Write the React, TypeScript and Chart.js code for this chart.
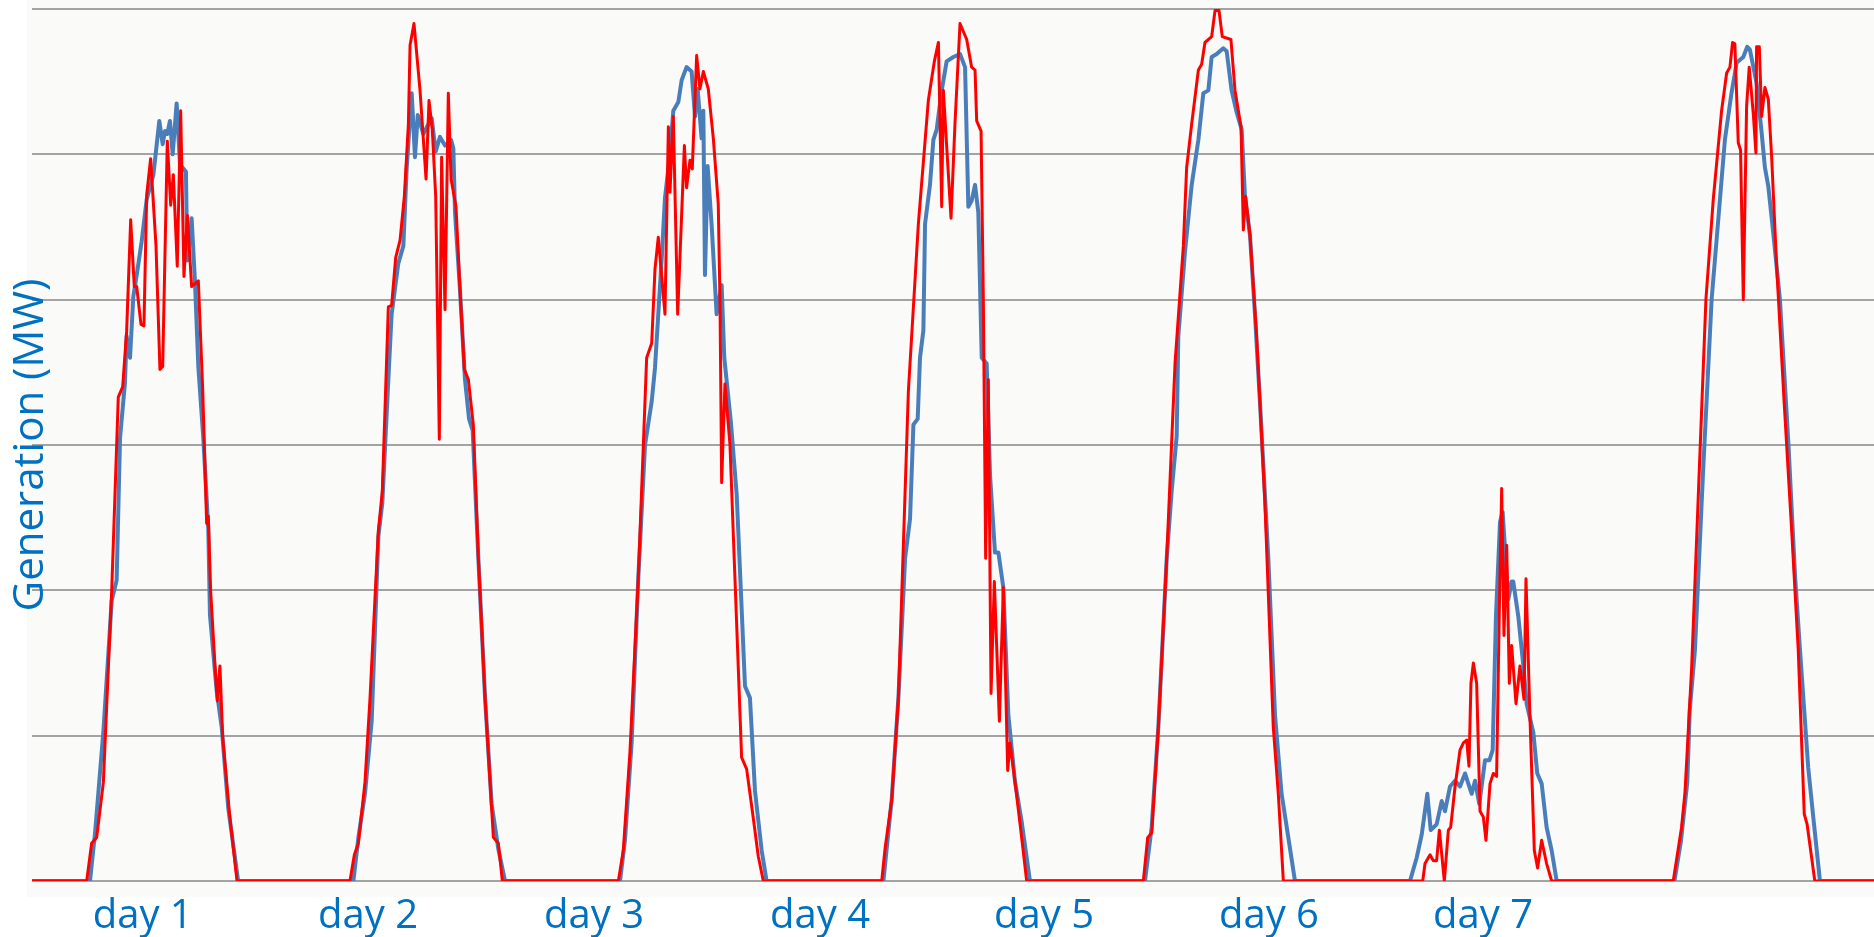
import React, { useEffect, useRef } from "react";
import { Chart, registerables } from "chart.js";

Chart.register(...registerables);

type Pt = [number, number];

// x = hours since start of the week, y = generation in MW
const measuredDay1: Pt[] = [
  [0, 0], [5.29, 0], [5.75, 3.3], [6.51, 10.3], [7.27, 19.3], [7.72, 20.7], [8.03, 30.5], [8.48, 34.3],
  [8.63, 37.5], [8.94, 36], [9.24, 40.2], [9.61, 42], [10.0, 44], [10.46, 46.9], [11.07, 48.6],
  [11.61, 52.3], [11.92, 50.7], [12.13, 51.6], [12.34, 51.4], [12.58, 52.3], [12.83, 50], [13.19, 53.5],
  [13.5, 49.3], [14.04, 48.8], [14.16, 42.7], [14.56, 45.6], [14.86, 41.3], [15.17, 35.4], [15.62, 30.5],
  [16.08, 24.2], [16.23, 18.3], [16.84, 13.1], [17.3, 10.6], [17.9, 5], [18.8, 0],
];
const measuredDay2: Pt[] = [
  [29.31, 0], [29.77, 3], [30.37, 6], [30.98, 11], [31.59, 23.7], [31.95, 26], [32.5, 34.5], [32.8, 39],
  [33.41, 42.5], [33.87, 43.7], [34.17, 49], [34.63, 54.2], [34.93, 49.8], [35.18, 52.7], [35.69, 51.4],
  [36.45, 52.5], [36.82, 50.2], [37.21, 51.2], [37.67, 50.6], [38.22, 51], [38.43, 50.4], [38.58, 46],
  [39.04, 40.6], [39.49, 34.5], [39.86, 31.8], [40.19, 31], [40.71, 22.2], [41.32, 12.6], [41.92, 5.3],
  [42.53, 2.2], [43.14, 0],
];
const measuredDay3: Pt[] = [
  [53.63, 0], [54.08, 2.8], [54.69, 9.5], [55.3, 20.9], [55.91, 30], [56.52, 33], [56.82, 35.3], [57.12, 39],
  [57.43, 42.8], [57.73, 47], [58.19, 50], [58.49, 53], [58.95, 53.6], [59.25, 55.1], [59.7, 56],
  [60.16, 55.7], [60.47, 52.6], [60.71, 54.5], [61.07, 51.1], [61.23, 53], [61.38, 41.7], [61.62, 49.2],
  [61.99, 45.1], [62.44, 39], [62.9, 41], [63.14, 36], [63.75, 31.5], [64.27, 26.6], [65.03, 13.4],
  [65.48, 12.6], [65.94, 6.2], [66.55, 2.1], [67.0, 0],
];
const measuredDay4: Pt[] = [
  [77.65, 0], [78.41, 5.6], [79.02, 12.6], [79.63, 22.2], [80.08, 24.9], [80.39, 31.4], [80.78, 31.8],
  [80.99, 36], [81.3, 37.9], [81.45, 45.2], [81.9, 47.9], [82.21, 51], [82.51, 51.7], [82.97, 54.4],
  [83.42, 56.4], [84.03, 56.7], [84.64, 56.9], [85.1, 56], [85.4, 46.4], [85.7, 46.8], [86.01, 47.9],
  [86.31, 46], [86.62, 36], [87.07, 35.6], [87.38, 27.9], [87.83, 22.6], [88.14, 22.6], [88.59, 20.2],
  [89.05, 11.4], [89.66, 6.8], [90.26, 4.1], [91.02, 0],
];
const measuredDay5: Pt[] = [
  [101.51, 0], [102.12, 3.7], [102.73, 10.6], [103.49, 22.2], [103.94, 26.8], [104.4, 30.6], [104.55, 37.5],
  [105.16, 43.3], [105.77, 47.9], [106.38, 51], [106.83, 54.2], [107.29, 54.4], [107.59, 56.7],
  [108.05, 56.9], [108.65, 57.3], [108.96, 57.1], [109.41, 54.4], [109.87, 52.9], [110.33, 51.7],
  [110.63, 47.1], [111.09, 44.4], [111.54, 39], [112.0, 32.9], [112.76, 22.2], [113.37, 11.4],
  [113.97, 6], [114.58, 3], [115.19, 0],
];
const measuredDay6: Pt[] = [
  [125.68, 0], [126.29, 1.6], [126.75, 3.2], [127.26, 6], [127.57, 3.5], [128.11, 3.9], [128.57, 5.5],
  [128.87, 4.8], [129.33, 6.5], [129.79, 6.9], [130.24, 6.5], [130.7, 7.4], [131.0, 6.7], [131.31, 6],
  [131.61, 6.9], [132.0, 5.3], [132.52, 8.3], [132.92, 8.3], [133.22, 9], [133.52, 18.2], [133.89, 24.7],
  [134.13, 25.4], [134.34, 22.9], [134.65, 19.4], [134.95, 20.6], [135.1, 20.6], [135.56, 18.2],
  [136.02, 14.8], [136.32, 12.2], [136.93, 10.2], [137.29, 7.4], [137.69, 6.7], [138.14, 3.7],
  [138.6, 2.1], [139.06, 0],
];
const measuredDay7: Pt[] = [
  [149.8, 0], [150.4, 2.8], [150.97, 6.8], [151.2, 11.8], [151.67, 15.9], [152.4, 28], [153.19, 40],
  [153.95, 46.9], [154.4, 51], [155.0, 54.2], [155.47, 56.3], [156.08, 56.7], [156.44, 57.4],
  [156.68, 57.2], [157.29, 54.9], [157.75, 51.5], [158.05, 49.1], [158.36, 47.8], [158.81, 44.6],
  [159.42, 40], [160.2, 30], [160.8, 21], [161.25, 15.9], [162.0, 7.8], [162.46, 4.4], [163.07, 0], [168, 0],
];

const forecastDay1: Pt[] = [
  [0, 0], [4.99, 0], [5.44, 2.6], [5.9, 3], [6.51, 6.8], [7.27, 20], [7.87, 33.3], [8.27, 34], [8.63, 37.8],
  [9.0, 45.5], [9.33, 40.9], [9.55, 40.9], [9.94, 38.3], [10.21, 38.2], [10.46, 47.2], [10.82, 49.7],
  [11.31, 43.7], [11.67, 35.2], [11.92, 35.4], [12.34, 50.9], [12.65, 46.5], [12.89, 48.6], [13.25, 42.3],
  [13.56, 53], [13.86, 41.6], [14.17, 45.8], [14.56, 40.9], [15.17, 41.3], [15.56, 34], [15.93, 24.6],
  [16.08, 25.1], [16.29, 20], [16.69, 14.8], [16.9, 12.4], [17.14, 14.8], [17.39, 9.9], [18.0, 4.7], [18.7, 0],
];
const forecastDay2: Pt[] = [
  [29.0, 0], [29.4, 1.8], [29.77, 2.6], [30.37, 6.8], [30.83, 12.6], [31.59, 24.1], [31.95, 26.8],
  [32.5, 39.5], [32.8, 39.6], [33.17, 42.9], [33.57, 44.1], [33.96, 47.1], [34.33, 52.1], [34.48, 57.5],
  [34.84, 59], [35.39, 54.4], [35.94, 48.3], [36.21, 53.7], [36.51, 51.7], [36.82, 47.1], [37.15, 30.4],
  [37.36, 49.8], [37.67, 39.3], [37.97, 54.2], [38.22, 48.3], [38.67, 46.4], [39.04, 40.6], [39.43, 35.2],
  [39.8, 34.5], [40.25, 31.4], [40.71, 22.2], [41.32, 12.6], [42.08, 3], [42.53, 2.6], [42.9, 0],
];
const forecastDay3: Pt[] = [
  [53.48, 0], [53.93, 2.1], [54.54, 8.9], [55.3, 20.9], [56.06, 36], [56.52, 37], [56.82, 42.1],
  [57.12, 44.3], [57.73, 39], [58.04, 51.9], [58.19, 47.4], [58.49, 52.6], [58.89, 39], [59.5, 50.6],
  [59.7, 47.7], [60.01, 49.6], [60.22, 49], [60.62, 56.8], [60.92, 54.5], [61.23, 55.7], [61.68, 54.5],
  [62.14, 51.1], [62.59, 46.6], [62.75, 39.8], [62.9, 27.4], [63.2, 34.2], [63.66, 30], [64.11, 20.9],
  [64.72, 8.5], [65.18, 7.7], [65.79, 4.3], [66.24, 1.7], [66.7, 0],
];
const forecastDay4: Pt[] = [
  [77.5, 0], [77.8, 2.2], [78.41, 5.6], [79.02, 12.6], [79.93, 33.7], [80.84, 45.2], [81.75, 53.7],
  [82.3, 56.4], [82.67, 57.7], [82.97, 46.4], [83.12, 54.4], [83.42, 50.6], [83.82, 45.6], [84.18, 52.1],
  [84.64, 59], [85.25, 57.9], [85.7, 56], [86.01, 55.8], [86.16, 52.3], [86.56, 51.6], [86.77, 39.8],
  [86.98, 22.2], [87.22, 34.5], [87.47, 12.9], [87.77, 20.6], [88.23, 11], [88.59, 20.2], [88.99, 7.6],
  [89.2, 9.5], [89.66, 6.8], [90.26, 3], [90.72, 0],
];
const forecastDay5: Pt[] = [
  [101.36, 0], [101.76, 3], [102.12, 3.3], [102.73, 10.6], [103.49, 22.2], [104.25, 35.6], [105.01, 43.7],
  [105.31, 49.1], [105.77, 52.1], [106.38, 55.8], [106.68, 56.2], [106.98, 57.7], [107.59, 58.1],
  [107.9, 59.9], [108.26, 59.9], [108.56, 58.1], [109.35, 57.9], [109.72, 54.4], [110.27, 51.9],
  [110.48, 44.8], [110.69, 47.1], [111.09, 44.4], [111.69, 37.5], [112.45, 26], [113.21, 10.6],
  [113.67, 6], [114.13, 0],
];
const forecastDay6: Pt[] = [
  [126.84, 0], [127.05, 1.2], [127.51, 1.8], [127.81, 1.4], [128.11, 1.4], [128.36, 3.5], [128.81, 0],
  [129.18, 3.5], [129.39, 3.7], [129.79, 6.5], [130.24, 9], [130.55, 9.5], [130.85, 9.7], [131.06, 7.9],
  [131.24, 13.6], [131.46, 15], [131.76, 13.6], [132.07, 4.8], [132.37, 4.4], [132.61, 2.8], [132.98, 6.7],
  [133.28, 7.4], [133.58, 7.2], [133.83, 18.7], [134.04, 27], [134.25, 16.9], [134.5, 23.1], [134.74, 13.6],
  [134.95, 16.2], [135.35, 12.2], [135.71, 14.8], [136.08, 12.5], [136.26, 20.8], [136.62, 11.3],
  [137.02, 2.1], [137.32, 0.9], [137.69, 2.8], [138.14, 1.2], [138.6, 0],
];
const forecastDay7: Pt[] = [
  [149.69, 0], [150.45, 3.7], [150.76, 6.1], [150.97, 9], [151.37, 14.7], [152.0, 27], [152.67, 40],
  [153.34, 46.9], [154.1, 53], [154.56, 55.6], [154.86, 56], [155.1, 57.7], [155.31, 57.6], [155.62, 50.8],
  [155.83, 50.3], [156.08, 40], [156.38, 53.3], [156.62, 56], [156.99, 52.8], [157.23, 50.1], [157.29, 57.4],
  [157.54, 57.4], [157.75, 52.6], [158.05, 54.6], [158.36, 53.8], [158.66, 49.9], [159.12, 42.3],
  [159.8, 33], [160.5, 24], [161.09, 15.9], [161.64, 4.6], [161.9, 3.9], [162.6, 0], [168, 0],
];

const dayLabels = ["day 1", "day 2", "day 3", "day 4", "day 5", "day 6", "day 7"];
const dayLabelHours = [10.1, 30.65, 51.26, 71.87, 92.3, 112.82, 132.34];

const Y_MIN = 0;
const Y_MAX = 60;
const Y_STEP = 10;
const X_MIN = 0;
const X_MAX = 168;

const BLUE = "#4a7ebb";
const RED = "#ff0000";
const TEXT_BLUE = "#0070c0";

const plotBackground = {
  id: "plotBackground",
  beforeDraw(chart: any) {
    const { ctx, chartArea } = chart;
    ctx.save();
    ctx.fillStyle = "#fafbf9";
    ctx.fillRect(chartArea.left - 5, 0, chart.width - chartArea.left + 5, chartArea.bottom + 16);
    ctx.restore();
  },
};

const toXY = (pts: Pt[][]) => pts.flat().map(([x, y]) => ({ x, y }));

export default function App() {
  const ref = useRef<HTMLCanvasElement>(null);

  useEffect(() => {
    document.body.style.margin = "0";
    const measured = toXY([measuredDay1, measuredDay2, measuredDay3, measuredDay4, measuredDay5, measuredDay6, measuredDay7]);
    const forecast = toXY([forecastDay1, forecastDay2, forecastDay3, forecastDay4, forecastDay5, forecastDay6, forecastDay7]);

    const chart = new Chart(ref.current as HTMLCanvasElement, {
      type: "line",
      data: {
        datasets: [
          {
            label: "Forecast",
            data: forecast,
            borderColor: RED,
            backgroundColor: RED,
            borderWidth: 3,
            pointRadius: 0,
            tension: 0,
            borderJoinStyle: "round",
            order: 0,
          },
          {
            label: "Measured",
            data: measured,
            borderColor: BLUE,
            backgroundColor: BLUE,
            borderWidth: 4,
            pointRadius: 0,
            tension: 0,
            borderJoinStyle: "round",
            order: 1,
          },
        ],
      },
      options: {
        responsive: false,
        animation: false,
        devicePixelRatio: 1,
        layout: { padding: { top: 9, left: 0, right: 0, bottom: 0 } },
        plugins: {
          legend: { display: false },
          tooltip: { enabled: false },
        },
        scales: {
          x: {
            type: "linear",
            min: X_MIN,
            max: X_MAX,
            grid: { display: false },
            border: { display: false },
            afterBuildTicks: (s: any) => {
              s.ticks = dayLabelHours.map((v) => ({ value: v }));
            },
            ticks: {
              autoSkip: false,
              maxRotation: 0,
              minRotation: 0,
              color: TEXT_BLUE,
              padding: 4,
              font: { family: '"Open Sans", sans-serif', size: 40 },
              callback: (_v: any, i: number) => dayLabels[i],
            },
            afterFit: (s: any) => {
              s.height = 56;
            },
          },
          y: {
            min: Y_MIN,
            max: Y_MAX,
            ticks: { display: false, stepSize: Y_STEP },
            grid: { color: "#a3a3a3", lineWidth: 2, drawTicks: false },
            border: { display: false },
            title: {
              display: true,
              text: "Generation (MW)",
              color: TEXT_BLUE,
              font: { family: '"Open Sans", sans-serif', size: 42 },
              padding: { top: 6, bottom: 0 },
            },
            afterFit: (s: any) => {
              s.width = 32;
            },
          },
        },
      },
      plugins: [plotBackground],
    });
    return () => chart.destroy();
  }, []);

  return (
    <div style={{ position: "fixed", left: 0, top: 0, width: 1874, height: 937 }}>
      <canvas ref={ref} width={1874} height={937} style={{ display: "block" }} />
    </div>
  );
}
